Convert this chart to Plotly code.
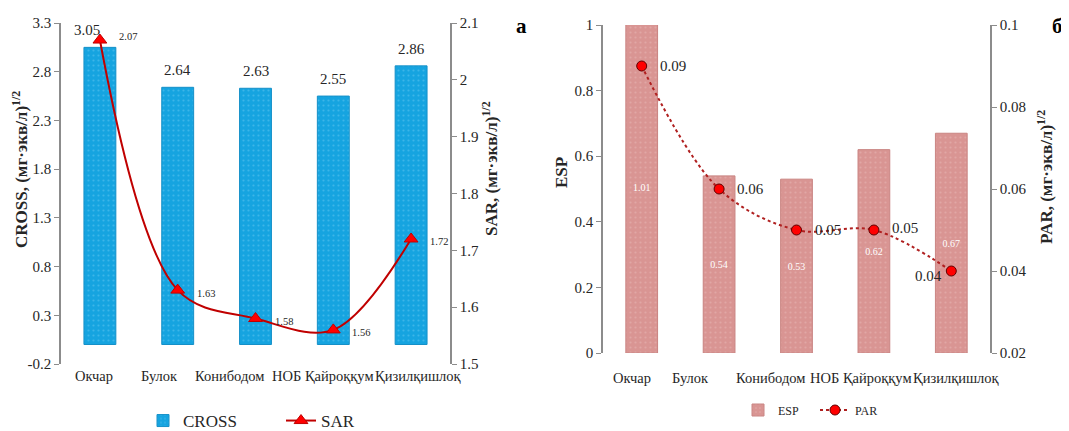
import plotly.graph_objects as go

# ---- data ----
sites = ["Окчар", "Булок", "Конибодом", "НОБ Қайроққум", "Қизилқишлоқ"]
cross_vals = [3.05, 2.64, 2.63, 2.55, 2.86]
sar_vals = [2.07, 1.63, 1.58, 1.56, 1.72]
esp_vals = [1.01, 0.54, 0.53, 0.62, 0.67]
par_vals = [0.09, 0.06, 0.05, 0.05, 0.04]
cross_ticks = [-0.2, 0.3, 0.8, 1.3, 1.8, 2.3, 2.8, 3.3]

# page body has an 8px margin; size the figure to fit the 1069x431 window
OFF = 8
W, H = 1069 - OFF, 431 - OFF


def px(x):
    return (x - OFF) / W


def py(y):
    return 1 - (y - OFF) / H


SERIF = "Liberation Serif"
TXT = "#262626"
AX = "#8c8c8c"

# horizontal nudges (px) of the category labels, as laid out in the original
left_nudge = [-6, -18, -26, -10, 7]
right_nudge = [-10, -29, -26, -13, 5]

fig = go.Figure()

fig.add_trace(go.Bar(
    x=sites, y=cross_vals, name="CROSS", xaxis="x", yaxis="y",
    marker=dict(color="#16A4E0", line=dict(color="#1590c8", width=1),
                pattern=dict(shape=".", fgcolor="#63c6ef", size=5, solidity=0.15)),
    legend="legend", showlegend=True,
))
fig.add_trace(go.Scatter(
    x=sites, y=sar_vals, name="SAR", xaxis="x", yaxis="y2", mode="lines+markers",
    line=dict(color="#C00000", width=2, shape="spline", smoothing=1.0),
    marker=dict(symbol="triangle-up", size=12, color="#FF0000", line=dict(color="#C00000", width=1)),
    legend="legend2",
))
fig.add_trace(go.Bar(
    x=sites, y=esp_vals, name="ESP", xaxis="x2", yaxis="y3",
    text=[f"{v:.2f}" for v in esp_vals], textposition="inside", insidetextanchor="middle",
    textfont=dict(family=SERIF, size=10, color="#ffffff"), textangle=0,
    marker=dict(color="#D99593", line=dict(color="#c98482", width=1),
                pattern=dict(shape=".", fgcolor="#e8b9b8", size=5, solidity=0.15)),
    legend="legend3",
))
fig.add_trace(go.Scatter(
    x=sites, y=par_vals, name="PAR", xaxis="x2", yaxis="y4", mode="lines+markers",
    line=dict(color="#B02020", width=2, dash="dot", shape="spline", smoothing=1.0),
    marker=dict(symbol="circle", size=10, color="#FF0000", line=dict(color="#600000", width=1)),
    legend="legend4",
))

ann = []
# category labels
for s, dx in zip(sites, left_nudge):
    ann.append(dict(x=s, y=py(376), xref="x", yref="paper", text=s, showarrow=False,
                    xshift=dx, xanchor="center", yanchor="middle",
                    font=dict(family=SERIF, size=14.5, color=TXT)))
for s, dx in zip(sites, right_nudge):
    ann.append(dict(x=s, y=py(378), xref="x2", yref="paper", text=s, showarrow=False,
                    xshift=dx, xanchor="center", yanchor="middle",
                    font=dict(family=SERIF, size=14.5, color=TXT)))
# value labels
for i, (s, v) in enumerate(zip(sites, cross_vals)):
    ann.append(dict(x=s, y=v, xref="x", yref="y", text=f"{v:.2f}", showarrow=False,
                    xanchor="center", yanchor="bottom", yshift=7, xshift=(-13 if i == 0 else 0),
                    font=dict(family=SERIF, size=15, color=TXT)))
for i, (s, v) in enumerate(zip(sites, sar_vals)):
    ann.append(dict(x=s, y=v, xref="x", yref="y2", text=f"{v:.2f}", showarrow=False,
                    xanchor="left", yanchor="middle", xshift=17, yshift=(4 if i == 0 else -3),
                    font=dict(family=SERIF, size=10.5, color=TXT)))
for i, (s, v) in enumerate(zip(sites, par_vals)):
    last = i == len(sites) - 1
    ann.append(dict(x=s, y=v, xref="x2", yref="y4", text=f"{v:.2f}", showarrow=False,
                    xanchor=("right" if last else "left"), yanchor="middle",
                    xshift=(-7 if last else 16),
                    yshift=(-5 if last else (2 if i == 3 else 0)),
                    font=dict(family=SERIF, size=15, color=TXT)))
# panel letters
letter = dict(xref="paper", yref="paper", showarrow=False, xanchor="center", yanchor="middle",
              font=dict(family=SERIF, size=21, color="#000"))
ann.append(dict(letter, x=px(521), y=py(26), text="<b>а</b>"))
ann.append(dict(letter, x=px(1057), y=py(26), text="<b>б</b>"))
# axis titles
ttl = dict(showarrow=False, xref="paper", yref="paper", textangle=-90,
           xanchor="center", yanchor="middle")
ann.append(dict(ttl, x=px(20), y=py(170), text="<b>CROSS, (мг·экв/л)<sup>1/2</sup></b>",
                font=dict(family=SERIF, size=17, color=TXT)))
ann.append(dict(ttl, x=px(490), y=py(169), text="<b>SAR, (мг·экв/л)<sup>1/2</sup></b>",
                font=dict(family=SERIF, size=17, color=TXT)))
ann.append(dict(ttl, x=px(561), y=py(173), text="<b>ESP</b>",
                font=dict(family=SERIF, size=17, color=TXT)))
ann.append(dict(ttl, x=px(1045), y=py(177), text="<b>PAR, (мг·экв/л)<sup>1/2</sup></b>",
                font=dict(family=SERIF, size=17, color=TXT)))

tickfont = dict(family=SERIF, size=15, color=TXT)
yax_common = dict(showgrid=False, zeroline=False, showline=True, linecolor=AX, linewidth=1.5,
                  ticks="outside", ticklen=5, tickcolor=AX, tickfont=tickfont, automargin=False)
cat_range = [-0.5, len(sites) - 0.5]

LX = [px(61), px(450)]
LY = [py(364), py(23)]
RX = [px(603), px(990)]
RY = [py(353), py(25)]

leg_font = dict(family=SERIF, size=17, color=TXT)
leg_font2 = dict(family=SERIF, size=12, color=TXT)

fig.update_layout(
    width=W, height=H,
    margin=dict(l=0, r=0, t=0, b=0, autoexpand=False),
    paper_bgcolor="white", plot_bgcolor="white",
    bargap=0.59,
    font=dict(family=SERIF, color=TXT),
    xaxis=dict(domain=LX, anchor="y", range=cat_range, autorange=False, showgrid=False,
               showline=False, ticks="", showticklabels=False, automargin=False),
    yaxis=dict(yax_common, domain=LY, anchor="x", range=[-0.2, 3.3],
               tickvals=cross_ticks, ticktext=[f"{t:g}" for t in cross_ticks]),
    yaxis2=dict(yax_common, overlaying="y", side="right", anchor="x", range=[1.5, 2.1], dtick=0.1, tick0=1.5),
    xaxis2=dict(domain=RX, anchor="y3", range=cat_range, autorange=False, showgrid=False,
                showline=False, ticks="", showticklabels=False, automargin=False),
    yaxis3=dict(yax_common, domain=RY, anchor="x2", range=[0, 1], dtick=0.2),
    yaxis4=dict(yax_common, overlaying="y3", side="right", anchor="x2", range=[0.02, 0.1], dtick=0.02, tick0=0.02),
    legend=dict(x=px(143), y=py(421), xanchor="left", yanchor="middle", font=leg_font,
                bgcolor="rgba(0,0,0,0)"),
    legend2=dict(x=px(281), y=py(421), xanchor="left", yanchor="middle", font=leg_font,
                 bgcolor="rgba(0,0,0,0)"),
    legend3=dict(x=px(738), y=py(410), xanchor="left", yanchor="middle", font=leg_font2,
                 bgcolor="rgba(0,0,0,0)"),
    legend4=dict(x=px(815), y=py(410), xanchor="left", yanchor="middle", font=leg_font2,
                 bgcolor="rgba(0,0,0,0)"),
    annotations=ann,
)

fig.write_html("out.html")
